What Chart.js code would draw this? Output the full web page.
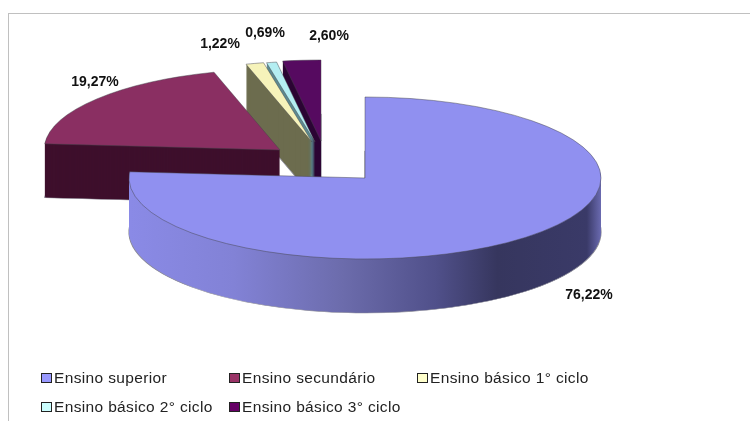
<!DOCTYPE html>
<html>
<head>
<meta charset="utf-8">
<script src="https://cdn.jsdelivr.net/npm/chart.js@4"></script>
<style>
  html, body { margin: 0; padding: 0; background: #fff; }
  #wrap { position: relative; width: 750px; height: 421px; overflow: hidden; }
  #topLine { position: absolute; left: 8px; right: 0; top: 13px; height: 1px; background: #c0c0c0; }
  #leftLine { position: absolute; left: 8px; top: 13px; bottom: 0; width: 1px; background: #c0c0c0; }
  #pie { position: absolute; left: 0; top: 0; }
  .key { position: absolute; font: 15.5px "Liberation Sans", Arial, sans-serif; letter-spacing: 0.35px; color: #222; white-space: nowrap; line-height: 18px; }
  .key i { position: absolute; left: -13px; top: 4px; width: 9px; height: 8px; border: 1px solid #222; }
</style>
</head>
<body>
<div id="wrap">
  <div id="topLine"></div>
  <div id="leftLine"></div>
  <canvas id="pie" width="750" height="421"></canvas>
</div>
<script>
// Data
const categories = ["Ensino superior", "Ensino secundário", "Ensino básico 1° ciclo", "Ensino básico 2° ciclo", "Ensino básico 3° ciclo"];
const percentages = [76.22, 19.27, 1.22, 0.69, 2.60];

// Colours
const topColors = ["#9090f0", "#8a2f62", "#f6f3ba", "#b4eef2", "#560a60"];
const sideColors = [null, "#3e0f2c", "#6c6c4e", "#5c8a90", "#2c0534"];
const legendColors = ["#9999ff", "#993366", "#ffffcc", "#ccffff", "#660066"];

// Layout of the 3D look
const squash = 81 / 236;
const depth = 54;
const explode = [[0, 0], [-85, -28], [-53, -36], [-50, -36], [-44, -37]];
const labelAt = [[589, 295], [95, 82], [220, 44], [265, 33], [329, 36]];
const legendAt = [[54, 378], [242, 378], [430, 378], [54, 407], [242, 407]];

// Side of the big slice goes from light on the left to dark on the right
function sideGradient(ctx) {
    const g = ctx.createLinearGradient(130, 0, 601, 0);
    g.addColorStop(0, "#8a8ae6");
    g.addColorStop(0.22, "#8282d6");
    g.addColorStop(0.45, "#6c6cac");
    g.addColorStop(0.65, "#50508a");
    g.addColorStop(0.78, "#36365e");
    g.addColorStop(0.97, "#3a3a68");
    g.addColorStop(1, "#6a6ab0");
    return g;
}

// Draw a slice again with other colours, through the arc element
function drawArc(ctx, arc, fill, border, width, dx, dy) {
    const ghost = Object.create(arc);
    ghost.options = Object.assign({}, arc.options, { backgroundColor: fill, borderColor: border, borderWidth: width });
    ctx.save();
    ctx.translate(arc.x + dx, arc.y + dy);
    ctx.scale(1, squash);
    ctx.translate(-arc.x, -arc.y);
    ghost.draw(ctx);
    ctx.restore();
}

const pie3d = {
    id: "pie3d",
    beforeDatasetsDraw(chart) {
        const ctx = chart.ctx;
        const arcs = chart.getDatasetMeta(0).data;
        // back slices first, the big one last
        for (let i = arcs.length - 1; i >= 0; i--) {
            const [dx, dy] = explode[i];
            const side = sideColors[i] || sideGradient(ctx);
            drawArc(ctx, arcs[i], side, "#8a8a96", 1.2, dx, dy + depth);
            for (let d = depth - 1; d > 0; d--) {
                drawArc(ctx, arcs[i], side, side, 0, dx, dy + d);
            }
            drawArc(ctx, arcs[i], topColors[i], "#44444c", 0.7, dx, dy);
        }
        return false;
    },
    afterDraw(chart) {
        const ctx = chart.ctx;
        ctx.save();
        ctx.font = 'bold 14px "Liberation Sans", Arial, sans-serif';
        ctx.fillStyle = "#111";
        ctx.textAlign = "center";
        ctx.textBaseline = "middle";
        percentages.forEach((v, i) => {
            ctx.fillText(v.toFixed(2).replace(".", ",") + "%", labelAt[i][0], labelAt[i][1]);
        });
        ctx.restore();
    }
};

new Chart(document.getElementById("pie"), {
    type: "pie",
    data: {
        labels: categories,
        datasets: [{ data: percentages, backgroundColor: topColors, borderWidth: 0 }]
    },
    options: {
        responsive: false,
        animation: false,
        radius: 236,
        layout: { padding: { left: 0, right: 20, top: 0, bottom: 65 } },
        plugins: { legend: { display: false }, tooltip: { enabled: false } }
    },
    plugins: [pie3d]
});

// Legend
categories.forEach((name, i) => {
    const key = document.createElement("div");
    key.className = "key";
    key.style.left = legendAt[i][0] + "px";
    key.style.top = (legendAt[i][1] - 9) + "px";
    key.textContent = name;
    const box = document.createElement("i");
    box.style.background = legendColors[i];
    key.appendChild(box);
    document.getElementById("wrap").appendChild(key);
});
</script>
</body>
</html>
